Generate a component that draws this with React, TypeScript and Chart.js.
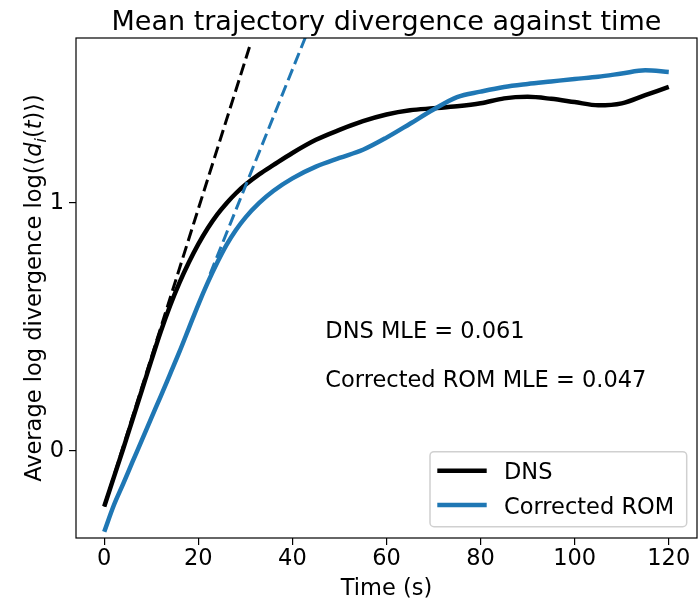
import React, { useEffect, useRef } from "react";
import { Chart, registerables } from "chart.js";

Chart.register(...registerables);

const TIME = [0, 2, 4, 6, 8, 10, 12, 14, 16, 18, 20, 22, 24, 26, 28, 30, 33, 36, 40, 45, 50, 55, 60, 65, 70, 75, 80, 85, 90, 95, 100, 105, 110, 115, 120];
const DNS = [-0.223, -0.108, 0.007, 0.126, 0.245, 0.364, 0.48, 0.585, 0.678, 0.76, 0.833, 0.897, 0.952, 0.998, 1.038, 1.072, 1.115, 1.152, 1.2, 1.253, 1.293, 1.328, 1.355, 1.372, 1.38, 1.388, 1.4, 1.42, 1.426, 1.418, 1.405, 1.392, 1.4, 1.433, 1.466];
const ROM = [-0.325, -0.22, -0.133, -0.044, 0.044, 0.133, 0.22, 0.31, 0.4, 0.495, 0.59, 0.678, 0.758, 0.83, 0.89, 0.94, 1.0, 1.048, 1.098, 1.145, 1.18, 1.213, 1.262, 1.318, 1.375, 1.425, 1.447, 1.466, 1.478, 1.488, 1.498, 1.507, 1.52, 1.533, 1.526];

const DNS_FIT_T = [0, 31];
const DNS_FIT_Y = [-0.223, 1.634];
const ROM_FIT_T = [22.5, 43];
const ROM_FIT_Y = [0.713, 1.677];

const X_TICKS = [0, 20, 40, 60, 80, 100, 120];
const Y_TICKS = [0, 1];

const SERIES_NAMES = ["DNS", "Corrected ROM"];
const SERIES_COLORS = ["#000000", "#1f77b4"];
const TITLE = "Mean trajectory divergence against time";
const X_LABEL = "Time (s)";
const ANNOT_TEXT = ["DNS MLE = 0.061", "Corrected ROM MLE = 0.047"];
const ANNOT_X = [47, 47];
const ANNOT_Y = [0.454, 0.256];

const FONT = "'DejaVu Sans', 'Noto Sans', sans-serif";
const FS = 22.5;

const pts = (xs: number[], ys: number[]) => xs.map((x, i) => ({ x, y: ys[i] }));

const overlay = {
  id: "overlay",
  afterDraw(chart: any) {
    const ctx = chart.ctx;
    const a = chart.chartArea;
    const xs = chart.scales.x;
    const ys = chart.scales.y;
    ctx.save();
    // spines
    ctx.strokeStyle = "#000";
    ctx.lineWidth = 1.2;
    ctx.strokeRect(a.left, a.top, a.right - a.left, a.bottom - a.top);
    ctx.fillStyle = "#000";
    // title
    ctx.font = `27px ${FONT}`;
    ctx.textAlign = "center";
    ctx.textBaseline = "alphabetic";
    ctx.fillText(TITLE, (a.left + a.right) / 2, 29.5);
    // x label
    ctx.font = `${FS}px ${FONT}`;
    ctx.fillText(X_LABEL, (a.left + a.right) / 2, 594.5);
    // annotations
    ctx.textAlign = "left";
    ANNOT_TEXT.forEach((t, i) => {
      ctx.fillText(t, xs.getPixelForValue(ANNOT_X[i]), ys.getPixelForValue(ANNOT_Y[i]));
    });
    // y label with math
    const segs: { t: string; it?: boolean; sub?: boolean }[] = [
      { t: "Average log divergence log(" },
      { t: "\u27E8" },
      { t: "d", it: true },
      { t: "i", it: true, sub: true },
      { t: "(" },
      { t: "t", it: true },
      { t: ")" },
      { t: "\u27E9" },
      { t: ")" },
    ];
    const fontFor = (s: any) => `${s.it ? "oblique " : ""}${s.sub ? FS * 0.7 : FS}px ${FONT}`;
    let total = 0;
    const widths = segs.map((s) => {
      ctx.font = fontFor(s);
      const w = ctx.measureText(s.t).width;
      total += w;
      return w;
    });
    ctx.translate(41, (a.top + a.bottom) / 2);
    ctx.rotate(-Math.PI / 2);
    let cx = -total / 2;
    segs.forEach((s, i) => {
      ctx.font = fontFor(s);
      ctx.fillText(s.t, cx, s.sub ? FS * 0.22 : 0);
      cx += widths[i];
    });
    ctx.setTransform(1, 0, 0, 1, 0, 0);
    // legend
    const bx = 430, by = 451.7, bw = 256.7, bh = 75;
    ctx.beginPath();
    (ctx as any).roundRect(bx, by, bw, bh, 4);
    ctx.fillStyle = "rgba(255,255,255,0.8)";
    ctx.fill();
    ctx.strokeStyle = "#d0d0d0";
    ctx.lineWidth = 1.5;
    ctx.stroke();
    const lineY = [470.7, 505];
    const textY = [479.3, 513.6];
    SERIES_NAMES.forEach((n, i) => {
      ctx.beginPath();
      ctx.moveTo(437.3, lineY[i]);
      ctx.lineTo(486.7, lineY[i]);
      ctx.strokeStyle = SERIES_COLORS[i];
      ctx.lineWidth = 4.5;
      ctx.stroke();
      ctx.fillStyle = "#000";
      ctx.font = `${FS}px ${FONT}`;
      ctx.textAlign = "left";
      ctx.fillText(n, 504, textY[i]);
    });
    ctx.restore();
  },
};

export default function App() {
  const ref = useRef<HTMLCanvasElement>(null);
  useEffect(() => {
    if (!ref.current) return;
    const chart = new Chart(ref.current, {
      type: "line",
      data: {
        datasets: [
          {
            label: "DNS fit",
            data: pts(DNS_FIT_T, DNS_FIT_Y),
            borderColor: SERIES_COLORS[0],
            borderWidth: 3,
            borderDash: [12, 5.4],
            pointRadius: 0,
            order: 3,
          },
          {
            label: "ROM fit",
            data: pts(ROM_FIT_T, ROM_FIT_Y),
            borderColor: SERIES_COLORS[1],
            borderWidth: 3,
            borderDash: [12, 5.4],
            pointRadius: 0,
            order: 0,
          },
          {
            label: SERIES_NAMES[1],
            data: pts(TIME, ROM),
            borderColor: SERIES_COLORS[1],
            borderWidth: 4.5,
            pointRadius: 0,
            cubicInterpolationMode: "monotone",
            order: 1,
          },
          {
            label: SERIES_NAMES[0],
            data: pts(TIME, DNS),
            borderColor: SERIES_COLORS[0],
            borderWidth: 4.5,
            pointRadius: 0,
            cubicInterpolationMode: "monotone",
            order: 2,
          },
        ],
      },
      options: {
        animation: false,
        responsive: false,
        devicePixelRatio: 1,
        layout: { padding: { left: 0, top: 38, right: 1, bottom: 0 } },
        plugins: { legend: { display: false }, title: { display: false }, tooltip: { enabled: false } },
        scales: {
          x: {
            type: "linear",
            min: -6,
            max: 126,
            afterBuildTicks: (s: any) => {
              s.ticks = X_TICKS.map((v) => ({ value: v }));
            },
            afterFit: (s: any) => {
              s.height = 63;
            },
            grid: { drawOnChartArea: false, drawTicks: true, tickLength: 7, color: "#000", lineWidth: 1.2 },
            border: { display: false },
            ticks: { font: { family: FONT, size: FS }, color: "#000", padding: 1, maxRotation: 0, autoSkip: false },
          },
          y: {
            type: "linear",
            min: -0.35,
            max: 1.663,
            afterBuildTicks: (s: any) => {
              s.ticks = Y_TICKS.map((v) => ({ value: v }));
            },
            afterFit: (s: any) => {
              s.width = 76;
            },
            grid: { drawOnChartArea: false, drawTicks: true, tickLength: 7, color: "#000", lineWidth: 1.2 },
            border: { display: false },
            ticks: { font: { family: FONT, size: FS }, color: "#000", padding: 5, autoSkip: false },
          },
        },
      },
      plugins: [overlay],
    } as any);
    return () => chart.destroy();
  }, []);
  return (
    <div style={{ position: "absolute", left: 0, top: 0, width: 698, height: 601, background: "#fff" }}>
      <canvas ref={ref} width={698} height={601} />
    </div>
  );
}
